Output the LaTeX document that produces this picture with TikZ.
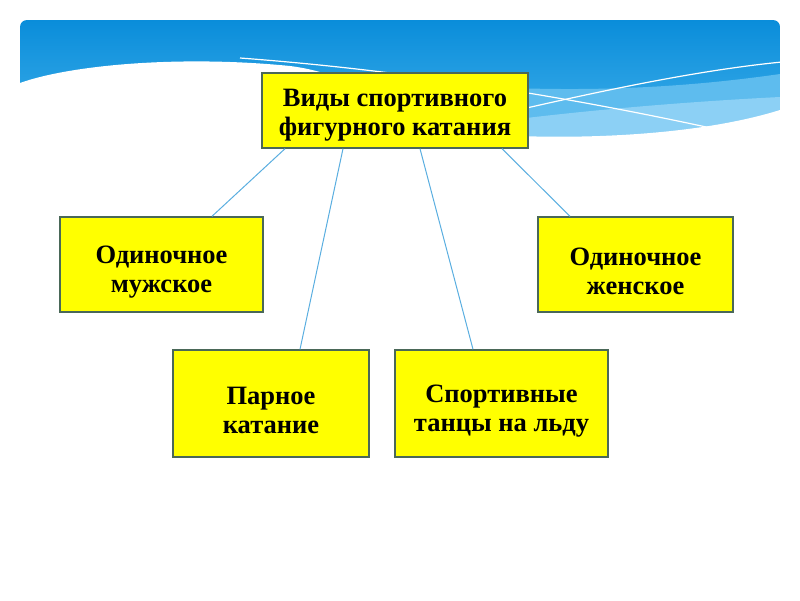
\documentclass[tikz,border=0pt]{standalone}
\usepackage{fontspec}
\setmainfont{Liberation Serif}
\definecolor{hdrtop}{HTML}{0A8DDA}
\definecolor{hdrbot}{HTML}{45B3EC}
\definecolor{bandA}{HTML}{5EBCEE}
\definecolor{bandB}{HTML}{8CD0F5}
\definecolor{boxfill}{HTML}{FFFF00}
\definecolor{boxline}{HTML}{4A6858}
\definecolor{link}{HTML}{5AAEE0}
\newcommand\dropA{\rule{0pt}{32pt}}
\newcommand\dropB{\rule{0pt}{27pt}}
\tikzset{
  kbox/.style={draw=boxline, line width=1.4pt, fill=boxfill, align=center,
    inner sep=0pt, font=\bfseries\fontsize{26.5}{29}\selectfont},
  linkline/.style={draw=link, line width=1pt}
}
\begin{document}
\begin{tikzpicture}[x=1pt,y=-1pt]
\useasboundingbox (0,0) rectangle (800,600);
% header
\begin{scope}
\clip[rounded corners=7] (20,20) rectangle (780,170);
\shade[top color=hdrtop, bottom color=hdrbot] (20,20) rectangle (780,150);
\fill[bandA] (300,70) .. controls (450,88) and (600,100) .. (780,74) -- (780,150) -- (300,150) -- cycle;
\fill[bandB] (450,128) .. controls (560,112) and (680,102) .. (780,97) -- (780,150) -- (450,150) -- cycle;
\draw[white, line width=1.2pt] (240,58) .. controls (400,70) and (560,95) .. (720,130);
\draw[white, line width=1.2pt] (440,128) .. controls (560,100) and (680,72) .. (782,62);
\end{scope}
\fill[white] (10,86) -- (20,83) .. controls (70,65) and (180,55) .. (290,66)
  .. controls (370,76) and (410,128) .. (480,134)
  .. controls (580,141) and (700,135) .. (780,110) -- (790,107) -- (790,175) -- (10,175) -- cycle;
% boxes
\node[kbox, minimum width=266pt, minimum height=75pt] (main) at (395,110.5) {\dropB Виды спортивного\\фигурного катания};
\node[kbox, minimum width=203pt, minimum height=95pt] (men) at (161.5,264.5) {\dropA Одиночное\\мужское};
\node[kbox, minimum width=195pt, minimum height=95pt] (women) at (635.5,264.5) {\dropA Одиночное\\женское};
\node[kbox, minimum width=196pt, minimum height=107pt] (pair) at (271,403.5) {\dropA Парное\\катание};
\node[kbox, minimum width=213pt, minimum height=107pt] (dance) at (501.5,403.5) {\dropA Спортивные\\танцы на льду};
% connectors
\draw[linkline] (main.south -| 285,0) -- (men.north -| 212,0);
\draw[linkline] (main.south -| 343,0) -- (pair.north -| 300,0);
\draw[linkline] (main.south -| 420,0) -- (dance.north -| 473,0);
\draw[linkline] (main.south -| 502,0) -- (women.north -| 570,0);
\end{tikzpicture}
\end{document}
